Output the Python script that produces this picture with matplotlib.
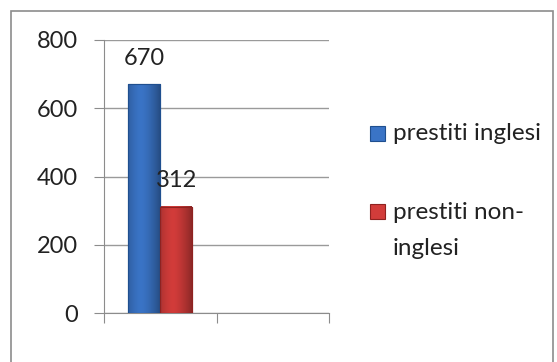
import numpy as np
import matplotlib
matplotlib.use("Agg")
import matplotlib.pyplot as plt
from matplotlib.patches import Rectangle

# data
categories = ["", ""]
series_names = ["prestiti inglesi", "prestiti non-\ninglesi"]
series_values = [[670, None], [312, None]]
colors = ["#3a74c6", "#d23c3a"]
edge_colors = ["#1f4f8f", "#8f2220"]
y_ticks = [0, 200, 400, 600, 800]

plt.rcParams['font.family'] = ['Lato', 'DejaVu Sans']

fig = plt.figure(figsize=(5.57, 3.62), dpi=100)
fig.patch.set_facecolor("white")
fig.patches.append(Rectangle((11 / 557, -0.05), 542 / 557, 1 - 11 / 362 + 0.05,
                             transform=fig.transFigure, fill=False,
                             edgecolor="#8c8c8c", linewidth=1.2))

ax = fig.add_axes([104 / 557, 49 / 362, 225 / 557, 273 / 362])

width = 0.284
offsets = [-width / 2, width / 2]
for i, name in enumerate(series_names):
    v = series_values[i][0]
    bars = ax.bar(0 + offsets[i], v, width=width, color=colors[i],
                  edgecolor=edge_colors[i], linewidth=0.8, zorder=3, label=name)
    # simple shading to mimic the 3D look
    b = bars[0]
    x0, w, h = b.get_x(), b.get_width(), b.get_height()
    grad = np.linspace(0, 1, 50)
    shade = 1 - 0.35 * np.abs(grad - 0.4) ** 1.5 * 2
    base = np.array(matplotlib.colors.to_rgb(colors[i]))
    img = np.clip(base[None, :] * shade[:, None], 0, 1)[None, :, :]
    ax.imshow(img, extent=(x0, x0 + w, 0, h), aspect="auto", zorder=3.5)
    ax.add_patch(Rectangle((x0, 0), w, h, fill=False, edgecolor=edge_colors[i],
                           linewidth=0.8, zorder=4))
    ax.text(x0 + w / 2, h + 76, str(v), ha="center", va="center",
            fontsize=17, color="#222222", zorder=5)

ax.set_xlim(-0.5, 1.5)
ax.set_ylim(0, 800)
ax.set_yticks(y_ticks)
ax.set_yticklabels([str(t) for t in y_ticks], fontsize=17, color="#222222")
ax.set_xticks([-0.5, 0.5, 1.5])
ax.set_xticklabels([])
ax.tick_params(axis="y", length=7, color="#8c8c8c", pad=12)
ax.tick_params(axis="x", length=7, color="#8c8c8c", direction="out")
ax.grid(axis="y", color="#9a9a9a", linewidth=1.0, zorder=0)
for s in ["top", "right"]:
    ax.spines[s].set_visible(False)
ax.spines["left"].set_color("#8c8c8c")
ax.spines["bottom"].set_color("#8c8c8c")

# legend drawn by hand so the marker lines up with the first text line
legend_y = [133, 212]
for i, name in enumerate(series_names):
    yf = 1 - legend_y[i] / 362
    fig.patches.append(Rectangle((370 / 557, yf - 7.5 / 362), 15 / 557, 15 / 362,
                                 transform=fig.transFigure, facecolor=colors[i],
                                 edgecolor=edge_colors[i], linewidth=0.8))
    fig.text(393 / 557, yf + 10 / 362, name, ha="left", va="top", fontsize=17.5,
             color="#222222", linespacing=1.9)

fig.savefig("out.png", dpi=100)
